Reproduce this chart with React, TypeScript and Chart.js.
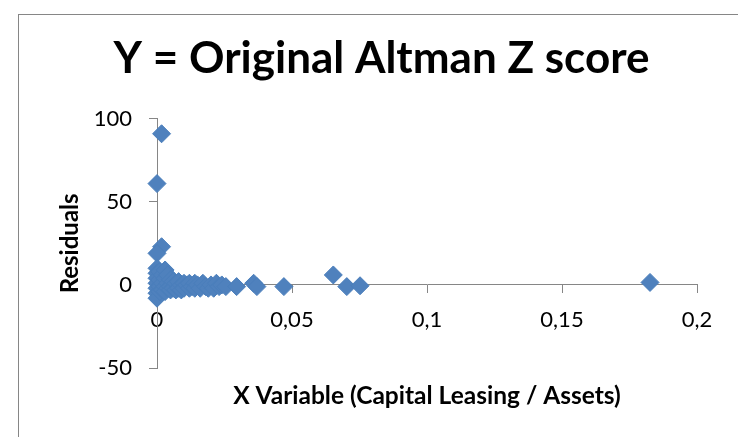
import React, { useEffect, useRef } from "react";
import { Chart, registerables } from "chart.js";

Chart.register(...registerables);

const titleText = "Y = Original Altman Z score";
const xAxisTitle = "X Variable (Capital Leasing / Assets)";
const yAxisTitle = "Residuals";
const xTickLabels = ["0", "0,05", "0,1", "0,15", "0,2"];
const yTickLabels = ["-50", "0", "50", "100"];

const xValues = [
  0.0017, 0, 0.0017, 0, 0, 0, 0, 0, 0, 0, 0,
  0.001, 0.001, 0.001, 0.001,
  0.002, 0.002, 0.002,
  0.003, 0.003, 0.003, 0.003,
  0.004, 0.004, 0.004,
  0.005, 0.005, 0.005,
  0.006, 0.006, 0.007, 0.007, 0.008, 0.008, 0.009, 0.009,
  0.01, 0.01, 0.011, 0.012, 0.012, 0.013, 0.014, 0.014, 0.015,
  0.016, 0.017, 0.018, 0.019, 0.02, 0.021, 0.022, 0.023, 0.024, 0.0255,
  0.0295, 0.0358, 0.037, 0.047, 0.0653, 0.0703, 0.0752, 0.1826,
];

const residuals = [
  91, 61, 23, 19, 10, 7, 4, 1, -2, -5, -8,
  8, 3, -1, -4,
  6, 1, -3,
  9, 4, -1, -4,
  6, 1, -2,
  3, -1, -3,
  2, -2, 1, -3, 2, -2, 0, -3,
  1, -2, 0, -2, 1, -1, 1, -2, 0,
  -2, 1, -1, -2, 0, -2, 1, -1, 0, -1,
  -1, 1, -1, -1, 6, -1, -0.5, 1.5,
];

export default function App() {
  const ref = useRef<HTMLCanvasElement>(null);

  useEffect(() => {
    const chart = new Chart(ref.current as HTMLCanvasElement, {
      type: "scatter",
      data: {
        datasets: [
          {
            data: xValues.map((x, i) => ({ x, y: residuals[i] })),
            pointStyle: "rectRot",
            pointRadius: 9,
            pointHoverRadius: 9,
            backgroundColor: "#4F81BD",
            borderColor: "#4A7EBB",
            borderWidth: 1,
            clip: false,
          } as any,
        ],
      },
      options: {
        responsive: false,
        animation: false,
        devicePixelRatio: 1,
        layout: { padding: { left: 66, right: 41, top: 0, bottom: 69 } },
        plugins: {
          legend: { display: false },
          tooltip: { enabled: false },
          title: {
            display: true,
            text: titleText,
            color: "#000",
            font: { family: "Lato", size: 44, weight: "bold" },
            padding: { top: 32, bottom: 34 },
          },
        },
        scales: {
          x: {
            type: "linear",
            position: { y: 0 } as any,
            min: 0,
            max: 0.2,
            ticks: {
              stepSize: 0.05,
              autoSkip: false,
              maxRotation: 0,
              callback: (_v: any, i: number) => xTickLabels[i],
              color: "#000",
              font: { family: "Lato", size: 22 },
              padding: 14,
            },
            grid: { drawOnChartArea: false, drawTicks: true, tickLength: 8, color: "#868686" },
            border: { display: true, color: "#868686", width: 1 },
            title: {
              display: true,
              text: xAxisTitle,
              color: "#000",
              font: { family: "Lato", size: 24.5, weight: "bold" },
              padding: { top: 34, bottom: 0 },
            },
          },
          y: {
            type: "linear",
            position: "left",
            min: -50,
            max: 100,
            ticks: {
              stepSize: 50,
              callback: (_v: any, i: number) => yTickLabels[i],
              color: "#000",
              font: { family: "Lato", size: 22 },
              padding: 17,
            },
            grid: { drawOnChartArea: false, drawTicks: true, tickLength: 8, color: "#868686" },
            border: { display: true, color: "#868686", width: 1 },
            title: {
              display: true,
              text: yAxisTitle,
              color: "#000",
              font: { family: "Lato", size: 24, weight: "bold" },
              padding: { top: -10, bottom: 0 },
            },
            afterFit: (s: any) => {
              s.width = 91;
            },
          },
        },
      },
    });
    return () => chart.destroy();
  }, []);

  return (
    <div
      style={{
        position: "fixed",
        left: 0,
        top: 0,
        width: 738,
        height: 437,
        overflow: "hidden",
        background: "#fff",
      }}
    >
      <canvas ref={ref} width={738} height={437} style={{ display: "block" }} />
      <div
        style={{
          position: "absolute",
          left: 18,
          top: 14,
          width: 800,
          height: 500,
          borderLeft: "1px solid #868686",
          borderTop: "1px solid #868686",
          pointerEvents: "none",
        }}
      />
    </div>
  );
}
